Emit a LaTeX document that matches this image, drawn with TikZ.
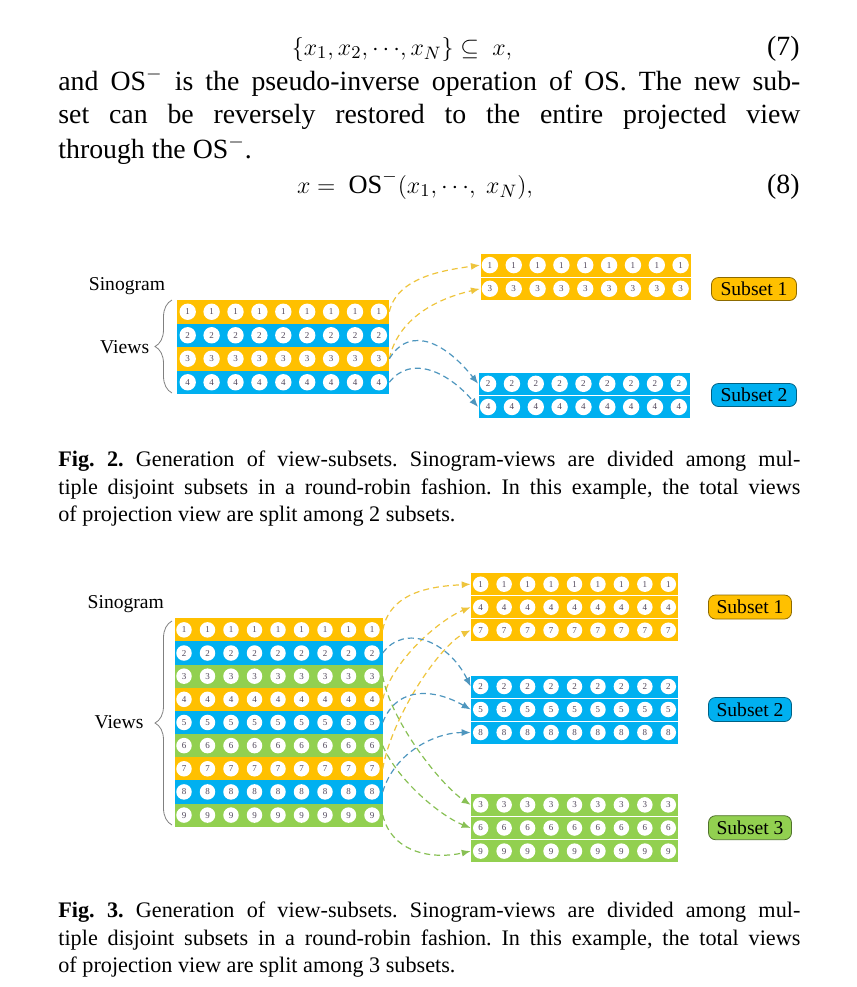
\documentclass[tikz,border=0pt]{standalone}
\usepackage{amsmath}
\usepackage{fontspec}
\setmainfont{Liberation Serif}
\usepackage{tikz}
\usetikzlibrary{arrows.meta,calc,positioning,decorations.pathreplacing}
\definecolor{BarGold}{RGB}{255,192,0}
\definecolor{BarSky}{RGB}{0,176,240}
\definecolor{BarLime}{RGB}{146,208,80}
\definecolor{ArrGold}{RGB}{238,196,60}
\definecolor{ArrSky}{RGB}{78,150,190}
\definecolor{ArrLime}{RGB}{136,192,84}
\definecolor{DigitInk}{RGB}{80,70,90}
\newcommand{\linew}{371pt}
\tikzset{
  viewbar/.style={fill=#1,inner sep=0pt,outer sep=0pt},
  subbar/.style={fill=#1,draw=white,line width=0.4pt,inner sep=0pt,outer sep=0pt},
  numdot/.style={circle,fill=white,inner sep=0pt,minimum size=#1,text=DigitInk,font=\fontsize{4.5}{5}\selectfont},
  tag/.style={draw=#1!55!black,fill=#1,rounded corners=3.5pt,inner sep=0pt,font=\fontsize{9.8}{11}\selectfont},
  link/.style={draw=#1,dash pattern=on 3pt off 2pt,line width=0.6pt,-{Latex[length=4.5pt,width=3.5pt]}},
  sidebrace/.style={draw=gray,line width=0.4pt,decorate,decoration={brace,amplitude=8.5pt}},
  lbl/.style={anchor=base,inner sep=0pt,font=\fontsize{9.8}{11}\selectfont},
  body/.style={anchor=base west,inner sep=0pt,font=\fontsize{13.9}{16}\selectfont},
  eqn/.style={anchor=base,inner sep=0pt,font=\fontsize{13.2}{16}\selectfont},
  capt/.style={anchor=base west,inner sep=0pt,font=\fontsize{11.1}{13}\selectfont}
}

\begin{document}
\frenchspacing
\begin{tikzpicture}[x=0.5pt,y=-0.5pt]
\useasboundingbox (0,0) rectangle (857,987);

% text above the figures
\node[eqn] (eqa) at (402,55) {$\{x_1,x_2,\cdots\!,x_N\} \subseteq\ x,$};
\node[body,anchor=base east] (eqanum) at (800,55) {(7)};
\node[body] (lna) at (58,90) {\makebox[\linew][s]{and OS$^{-}$ is the pseudo-inverse operation of OS. The new sub-}};
\node[body] (lnb) at (58,123.5) {\makebox[\linew][s]{set can be reversely restored to the entire projected view}};
\node[body] (lnc) at (58,158) {through the OS$^{-}$.};
\node[eqn] (eqb) at (415,193) {$x =\ \mathrm{OS}^{-}(x_1,\cdots\!,\ x_N),$};
\node[body,anchor=base east] (eqbnum) at (800,193) {(8)};

% Fig. 2: two subsets
\node[lbl] (sinoa) at (127,290) {Sinogram};
\node[lbl] (viewsa) at (124.7,353.3) {Views};
\draw[sidebrace] (172,393) -- (172,300);
\foreach \r/\col in {1/BarGold,2/BarSky,3/BarGold,4/BarSky}{
  \node[viewbar=\col,minimum width=106pt,minimum height=11.75pt] (p\r) at (283.3,{300+23.5*(\r-0.5)}) {};
  \foreach \k in {0,...,8}
    \node[numdot=8.2pt] (p\r c\k) at ($(p\r.west)+({10.4+23.9*\k},0)$) {\r};
}
\foreach \r/\y in {1/265.1,3/288.8}{
  \node[subbar=BarGold,minimum width=105.9pt,minimum height=11.85pt] (pa\r) at (585.8,\y) {};
  \foreach \k in {0,...,8}
    \node[numdot=8.2pt] (pa\r c\k) at ($(pa\r.west)+({10+23.84*\k},0)$) {\r};
}
\foreach \r/\y in {2/383.8,4/407}{
  \node[subbar=BarSky,minimum width=106.3pt,minimum height=11.6pt] (pb\r) at (584.4,\y) {};
  \foreach \k in {0,...,8}
    \node[numdot=8.2pt] (pb\r c\k) at ($(pb\r.west)+({10+23.84*\k},0)$) {\r};
}
\node[tag=BarGold,minimum width=42.5pt,minimum height=11.5pt] (taga1) at (754,289) {Subset 1};
\node[tag=BarSky,minimum width=42.5pt,minimum height=11.5pt] (taga2) at (754,395) {Subset 2};
\draw[link=ArrGold] (p1.east) .. controls +(8,-35) and +(-35,5) .. (pa1.west);
\draw[link=ArrGold] (p3.east) .. controls +(10,-45) and +(-35,8) .. (pa3.west);
\draw[link=ArrSky] (p3.east) .. controls +(22,-36) and +(-30,-38) .. (pb2.west);
\draw[link=ArrSky] (p4.east) .. controls +(22,-28) and +(-30,-35) .. (pb4.west);

\node[capt] (capa1) at (58,466.7) {\makebox[\linew][s]{\textbf{Fig. 2.} Generation of view-subsets. Sinogram-views are divided among mul-}};
\node[capt] (capa2) at (58,494) {\makebox[\linew][s]{tiple disjoint subsets in a round-robin fashion. In this example, the total views}};
\node[capt] (capa3) at (58,521.7) {of projection view are split among 2 subsets.};

% Fig. 3: three subsets
\node[lbl] (sinob) at (125.8,608.3) {Sinogram};
\node[lbl] (viewsb) at (119,728.3) {Views};
\draw[sidebrace] (172,825) -- (172,621);
\foreach \r/\col in {1/BarGold,2/BarSky,3/BarLime,4/BarGold,5/BarSky,6/BarLime,7/BarGold,8/BarSky,9/BarLime}{
  \node[viewbar=\col,minimum width=103.85pt,minimum height=11.58pt] (q\r) at (278.85,{618.3+23.15*(\r-0.5)}) {};
  \foreach \k in {0,...,8}
    \node[numdot=7.75pt] (q\r c\k) at ($(q\r.west)+({9+23.5*\k},0)$) {\r};
}
\foreach \r/\y in {1/584.2,4/607.2,7/630.2}{
  \node[subbar=BarGold,minimum width=103.8pt,minimum height=11.5pt] (qa\r) at (574.5,\y) {};
  \foreach \k in {0,...,8}
    \node[numdot=7.75pt] (qa\r c\k) at ($(qa\r.west)+({10+23.45*\k},0)$) {\r};
}
\foreach \r/\y in {2/686.5,5/709.5,8/732.5}{
  \node[subbar=BarSky,minimum width=103.8pt,minimum height=11.5pt] (qb\r) at (574.5,\y) {};
  \foreach \k in {0,...,8}
    \node[numdot=7.75pt] (qb\r c\k) at ($(qb\r.west)+({10+23.45*\k},0)$) {\r};
}
\foreach \r/\y in {3/804.9,6/828,9/851.1}{
  \node[subbar=BarLime,minimum width=103.8pt,minimum height=11.55pt] (qc\r) at (574.5,\y) {};
  \foreach \k in {0,...,8}
    \node[numdot=7.75pt] (qc\r c\k) at ($(qc\r.west)+({10+23.45*\k},0)$) {\r};
}
\node[tag=BarGold,minimum width=41.5pt,minimum height=12pt] (tagb1) at (750,607) {Subset 1};
\node[tag=BarSky,minimum width=41.5pt,minimum height=12pt] (tagb2) at (750,709.5) {Subset 2};
\node[tag=BarLime,minimum width=41.5pt,minimum height=12pt] (tagb3) at (750,827.7) {Subset 3};
\draw[link=ArrGold] (q1.east) .. controls +(8,-40) and +(-35,2) .. (qa1.west);
\draw[link=ArrGold] (q4.east) .. controls +(10,-40) and +(-30,12) .. (qa4.west);
\draw[link=ArrGold] (q7.east) .. controls +(10,-55) and +(-30,15) .. (qa7.west);
\draw[link=ArrSky] (q2.east) .. controls +(22,-30) and +(-22,-45) .. (qb2.west);
\draw[link=ArrSky] (q5.east) .. controls +(15,-38) and +(-35,-20) .. (qb5.west);
\draw[link=ArrSky] (q8.east) .. controls +(12,-40) and +(-35,0) .. (qb8.west);
\draw[link=ArrLime] (q3.east) .. controls +(8,45) and +(-30,-20) .. (qc3.west);
\draw[link=ArrLime] (q6.east) .. controls +(15,35) and +(-30,-12) .. (qc6.west);
\draw[link=ArrLime] (q9.east) .. controls +(10,40) and +(-35,8) .. (qc9.west);

\node[capt] (capb1) at (58,917.5) {\makebox[\linew][s]{\textbf{Fig. 3.} Generation of view-subsets. Sinogram-views are divided among mul-}};
\node[capt] (capb2) at (58,945) {\makebox[\linew][s]{tiple disjoint subsets in a round-robin fashion. In this example, the total views}};
\node[capt] (capb3) at (58,972.5) {of projection view are split among 3 subsets.};
\end{tikzpicture}
\end{document}
